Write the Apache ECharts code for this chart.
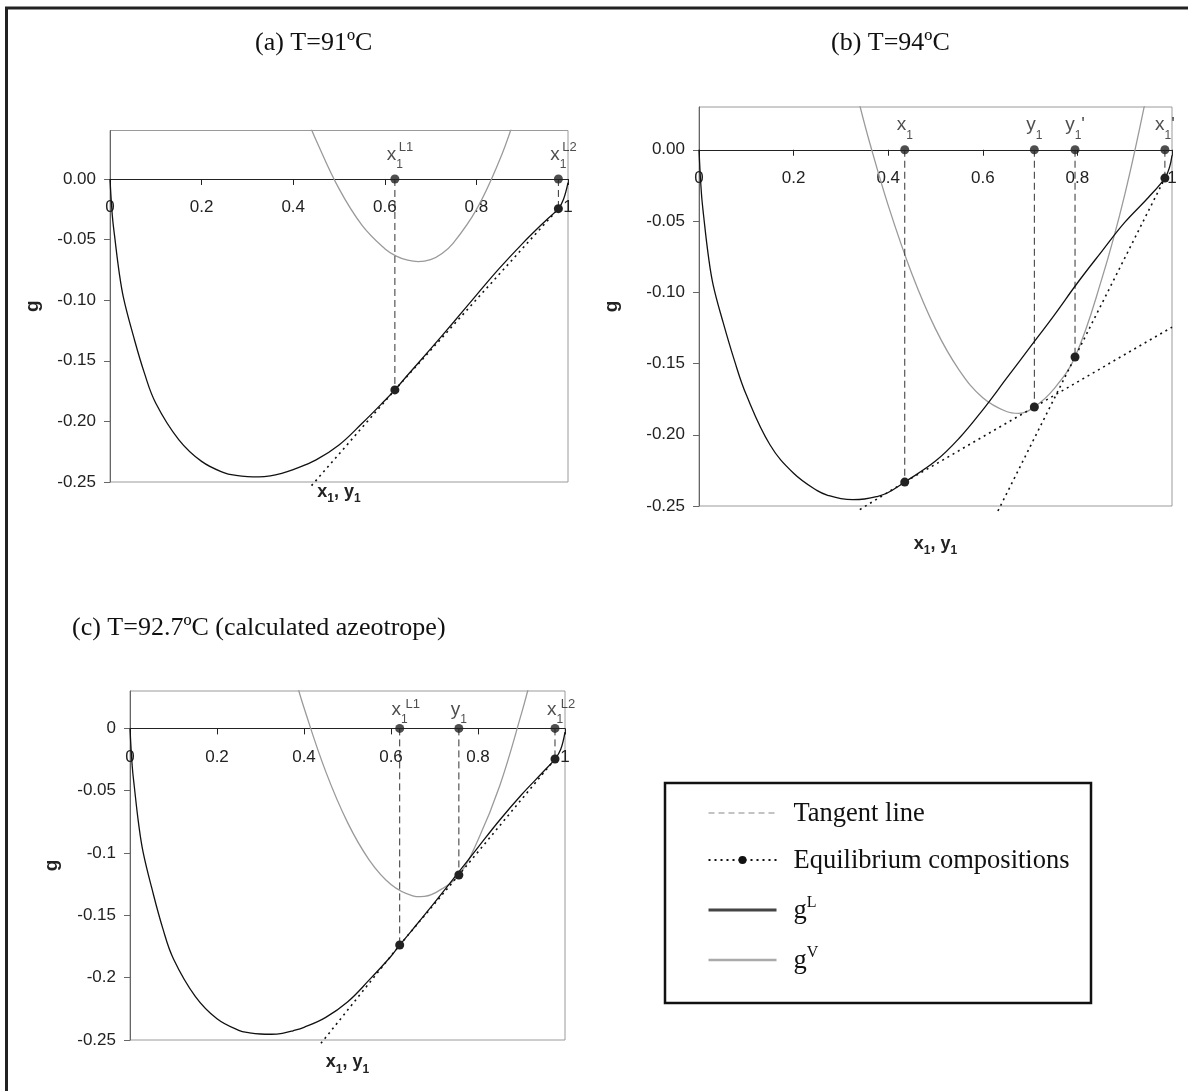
<!DOCTYPE html>
<html>
<head>
<meta charset="utf-8">
<script src="https://cdn.jsdelivr.net/npm/echarts@6/dist/echarts.min.js"></script>
<style>
  html, body { margin: 0; padding: 0; background: #fff; }
  #main { width: 1188px; height: 1091px; }
</style>
</head>
<body>
<div id="main"></div>
<script>
/* global echarts */
// ---- panel (a) T=91ºC ----
const xLa = [0, 0.005, 0.01, 0.02, 0.03, 0.05, 0.075, 0.1, 0.15, 0.2, 0.25, 0.275, 0.3, 0.325, 0.35, 0.375, 0.4, 0.45, 0.5, 0.55, 0.6, 0.622, 0.65, 0.7, 0.75, 0.8, 0.85, 0.9, 0.95, 0.979, 0.99, 1];
const gLa = [0, -0.03, -0.047, -0.077, -0.099, -0.128, -0.16, -0.185, -0.215, -0.233, -0.2425, -0.2445, -0.2455, -0.2457, -0.2449, -0.2428, -0.2398, -0.2318, -0.2195, -0.2018, -0.1828, -0.174, -0.1617, -0.1402, -0.1182, -0.0958, -0.0738, -0.0535, -0.0348, -0.0245, -0.017, -0.003];
const xVa = [0.43, 0.45, 0.5, 0.55, 0.6, 0.625, 0.65, 0.673, 0.7, 0.725, 0.75, 0.8, 0.85, 0.88];
const gVa = [0.05, 0.032, -0.008, -0.038, -0.0575, -0.0636, -0.067, -0.0682, -0.0665, -0.0614, -0.0527, -0.0253, 0.015, 0.046];
const tanA1x = [0.44, 0.622, 0.979];
const tanA1g = [-0.253, -0.174, -0.0245];
const eqXa = [0.622, 0.979];
const eqGa = [-0.174, -0.0245];
const labA = ['x', 'x'];
const supA = ['L1', 'L2'];

// ---- panel (b) T=94ºC ----
const xLb = [0, 0.005, 0.01, 0.02, 0.03, 0.05, 0.075, 0.1, 0.15, 0.2, 0.25, 0.275, 0.3, 0.325, 0.35, 0.375, 0.4, 0.435, 0.5, 0.55, 0.6, 0.65, 0.7, 0.75, 0.8, 0.85, 0.9, 0.95, 0.985, 0.995, 1];
const gLb = [0, -0.03, -0.047, -0.075, -0.095, -0.12, -0.148, -0.172, -0.207, -0.227, -0.2392, -0.2428, -0.2448, -0.2455, -0.2451, -0.2435, -0.2405, -0.2332, -0.2185, -0.2025, -0.1825, -0.1605, -0.1385, -0.1165, -0.0935, -0.072, -0.051, -0.0335, -0.0199, -0.012, -0.004];
const xVb = [0.34, 0.36, 0.4, 0.45, 0.5, 0.55, 0.6, 0.65, 0.676, 0.709, 0.75, 0.795, 0.85, 0.9, 0.95];
const gVb = [0.031, 0.006, -0.039, -0.087, -0.1257, -0.1546, -0.174, -0.1837, -0.185, -0.1805, -0.168, -0.1454, -0.0924, -0.0316, 0.0445];
const tanB1x = [0.34, 0.435, 0.709, 1.0];
const tanB1g = [-0.2525, -0.2332, -0.1805, -0.1245];
const tanB2x = [0.632, 0.795, 0.985];
const tanB2g = [-0.2535, -0.1454, -0.0199];
const eqXb = [0.435, 0.709, 0.795, 0.985];
const eqGb = [-0.2332, -0.1805, -0.1454, -0.0199];
const labB = ['x', 'y', "y'", "x'"];
const supB = [];

// ---- panel (c) T=92.7ºC ----
const xLc = [0, 0.005, 0.01, 0.02, 0.03, 0.05, 0.075, 0.1, 0.15, 0.2, 0.25, 0.275, 0.3, 0.325, 0.35, 0.375, 0.4, 0.45, 0.5, 0.55, 0.6, 0.62, 0.65, 0.7, 0.75, 0.8, 0.85, 0.9, 0.95, 0.977, 0.99, 1];
const gLc = [0, -0.03, -0.047, -0.077, -0.099, -0.128, -0.16, -0.185, -0.215, -0.233, -0.2422, -0.2442, -0.2452, -0.2454, -0.2447, -0.2426, -0.2398, -0.2318, -0.2195, -0.2018, -0.1828, -0.1738, -0.1612, -0.1398, -0.1178, -0.0955, -0.0735, -0.0532, -0.0348, -0.0246, -0.017, -0.003];
const xVc = [0.38, 0.4, 0.45, 0.5, 0.55, 0.6, 0.65, 0.668, 0.7, 0.756, 0.8, 0.85, 0.9, 0.92];
const gVc = [0.04, 0.0165, -0.0347, -0.0754, -0.1056, -0.1252, -0.1343, -0.135, -0.1322, -0.1176, -0.0895, -0.046, 0.012, 0.038];
const tanC1x = [0.439, 0.62, 0.756, 0.977];
const tanC1g = [-0.2527, -0.1738, -0.1176, -0.0246];
const eqXc = [0.62, 0.756, 0.977];
const eqGc = [-0.1738, -0.1176, -0.0246];
const labC = ['x', 'y', 'x'];
const supC = ['L1', '', 'L2'];

const titles = ['(a) T=91ºC', '(b) T=94ºC', '(c) T=92.7ºC (calculated azeotrope)'];
const legendNames = ['Tangent line', 'Equilibrium compositions', 'gL', 'gV'];

const SERIF = 'Liberation Serif';
const SANS = 'Liberation Sans';

const grids = [
  { left: 110, top: 130.5, width: 458, height: 351.5 },
  { left: 699, top: 107, width: 473, height: 399 },
  { left: 130, top: 691, width: 435, height: 349 },
];
const yMin = -0.25;
const yMax = [0.04, 0.03, 0.03];
const xNameGap = [304, 385, 325];
const yNameGap = [68, 78, 69];
const labDist = [3.5, 3.5, -2];
const supOff = [[11, -25.5], [0, 0], [13, -17.5]];

const markLabelRich = {
  m: { fontFamily: SANS, fontSize: 19, lineHeight: 26, color: '#222', verticalAlign: 'top' },
  s: { fontFamily: SANS, fontSize: 12, lineHeight: 12, color: '#222', verticalAlign: 'bottom' },
};

function markText(l) {
  const prime = l.indexOf("'") > 0;
  return '{m|' + l[0] + '}{s|1}' + (prime ? "{m|'}" : '');
}

function panelSeries(i, xL, gL, xV, gV, tangents, eqX, eqG, labs, sups) {
  const out = [];
  const ax = { xAxisIndex: i, yAxisIndex: i };
  out.push({
    ...ax, name: 'gL', type: 'line', data: xL.map((x, k) => [x, gL[k]]),
    symbol: 'none', smooth: 0.4,
    lineStyle: { color: '#111', width: 1.3 }, z: 3,
  });
  out.push({
    ...ax, name: 'gV', type: 'line', data: xV.map((x, k) => [x, gV[k]]),
    symbol: 'none', smooth: 0.4,
    lineStyle: { color: '#9a9a9a', width: 1.3 }, z: 2,
  });
  tangents.forEach(([tx, tg]) => {
    out.push({
      ...ax, name: 'Equilibrium compositions', type: 'line',
      data: tx.map((x, k) => ({ value: [x, tg[k]], symbol: eqX.includes(x) ? 'circle' : 'none' })),
      symbol: 'circle', symbolSize: 9, showSymbol: true, clip: false,
      itemStyle: { color: '#222' },
      lineStyle: { color: '#111', width: 1.6, type: [2, 4] }, z: 4,
    });
  });
  eqX.forEach((x, k) => {
    out.push({
      ...ax, name: 'Tangent line', type: 'line', data: [[x, 0], [x, eqG[k]]],
      symbol: 'none', lineStyle: { color: '#333', width: 1, type: [7, 4] }, z: 2,
    });
  });
  out.push({
    ...ax, type: 'scatter', data: eqX.map((x) => [x, 0]),
    symbolSize: 9, itemStyle: { color: '#222' }, z: 5,
    label: {
      show: true, position: 'top', distance: labDist[i],
      formatter: (p) => markText(labs[p.dataIndex]), rich: markLabelRich,
    },
  });
  if (sups.length) {
    out.push({
      ...ax, type: 'scatter', data: eqX.map((x) => [x, 0]), symbolSize: 0, z: 5,
      label: {
        show: true, position: 'top', distance: 0, offset: supOff[i],
        formatter: (p) => sups[p.dataIndex],
        fontFamily: SANS, fontSize: 13, color: '#222',
      },
    });
  }
  return out;
}

const series = [
  ...panelSeries(0, xLa, gLa, xVa, gVa, [[tanA1x, tanA1g]], eqXa, eqGa, labA, supA),
  ...panelSeries(1, xLb, gLb, xVb, gVb, [[tanB1x, tanB1g], [tanB2x, tanB2g]], eqXb, eqGb, labB, supB),
  ...panelSeries(2, xLc, gLc, xVc, gVc, [[tanC1x, tanC1g]], eqXc, eqGc, labC, supC),
];

// the x axis sits on g = 0: shift it up from the grid bottom
const xAxes = grids.map((g, i) => ({
  type: 'value', gridIndex: i, min: 0, max: 1, interval: 0.2, position: 'bottom',
  offset: -g.height * (0 - yMin) / (yMax[i] - yMin),
  nameMoveOverlap: false,
  axisLine: { onZero: false, lineStyle: { color: '#222', width: 1 } },
  axisTick: { length: 6, lineStyle: { color: '#222' } },
  splitLine: { show: false },
  axisLabel: {
    margin: 20, fontFamily: SANS, fontSize: 17, color: '#222',
    formatter: (v) => String(+v.toFixed(1)),
  },
  name: '{b|x}{s|1}{b|, y}{s|1}', nameLocation: 'middle', nameGap: xNameGap[i],
  nameTextStyle: {
    rich: {
      b: { fontFamily: SANS, fontSize: 18, fontWeight: 'bold', color: '#222', lineHeight: 22, verticalAlign: 'top' },
      s: { fontFamily: SANS, fontSize: 12, fontWeight: 'bold', color: '#222', lineHeight: 12, verticalAlign: 'bottom' },
    },
  },
}));

const yAxes = grids.map((g, i) => ({
  type: 'value', gridIndex: i, min: yMin, max: yMax[i], interval: 0.05,
  nameMoveOverlap: false,
  axisLine: { show: true, onZero: false, lineStyle: { color: '#666', width: 1 } },
  axisTick: { show: true, length: 6, lineStyle: { color: '#666' } },
  splitLine: { show: false },
  axisLabel: {
    margin: 14, fontFamily: SANS, fontSize: 17, color: '#222', showMaxLabel: false,
    formatter: (v) => (i === 2 ? String(+v.toFixed(2)) : v.toFixed(2)),
  },
  name: 'g', nameLocation: 'middle', nameGap: yNameGap[i], nameRotate: 90,
  nameTextStyle: { fontFamily: SANS, fontSize: 19, fontWeight: 'bold', color: '#222' },
}));

const legendRich = {
  t: { fontFamily: SERIF, fontSize: 26.5, color: '#111', lineHeight: 30, padding: [0, 0, 0, 12], verticalAlign: 'bottom' },
  u: { fontFamily: SERIF, fontSize: 16, color: '#111', lineHeight: 16, verticalAlign: 'top' },
};
const noDot = { color: 'rgba(0,0,0,0)', borderWidth: 0 };

const option = {
  animation: false,
  backgroundColor: '#fff',
  title: [
    { text: titles[0], left: 255, top: 30 },
    { text: titles[1], left: 831, top: 30 },
    { text: titles[2], left: 72, top: 615 },
  ].map((t) => ({
    ...t, padding: 0,
    textStyle: { fontFamily: SERIF, fontSize: 26, fontWeight: 'normal', color: '#111' },
  })),
  grid: grids.map((g) => ({
    ...g, show: true, borderColor: '#9a9a9a', borderWidth: 1,
    backgroundColor: 'transparent', outerBoundsMode: 'none', containLabel: false,
  })),
  xAxis: xAxes,
  yAxis: yAxes,
  legend: {
    orient: 'vertical', left: 707, top: 801, padding: 0, itemGap: 20,
    itemWidth: 68, itemHeight: 10, selectedMode: false,
    data: [
      { name: legendNames[0], itemStyle: noDot, lineStyle: { color: '#888', width: 1.2, type: [6, 4] } },
      { name: legendNames[1], itemStyle: { color: '#111' } },
      { name: legendNames[2], itemStyle: noDot, lineStyle: { color: '#444', width: 3 } },
      { name: legendNames[3], itemStyle: noDot, lineStyle: { color: '#aaa', width: 2.5 } },
    ],
    formatter: (n) => (n === 'gL' ? '{t|g}{u|L}' : n === 'gV' ? '{t|g}{u|V}' : '{t|' + n + '}'),
    textStyle: { rich: legendRich },
  },
  graphic: [
    {
      type: 'polyline', silent: true,
      shape: { points: [[6.5, 1091], [6.5, 8], [1188, 8]] },
      style: { stroke: '#222', lineWidth: 3, fill: 'none' },
    },
    {
      type: 'rect', silent: true,
      shape: { x: 665, y: 783, width: 426, height: 220 },
      style: { stroke: '#111', lineWidth: 2.5, fill: 'none' },
    },
  ],
  series,
};

const chart = echarts.init(document.getElementById('main'), null, { renderer: 'canvas' });
chart.setOption(option);
</script>
</body>
</html>
